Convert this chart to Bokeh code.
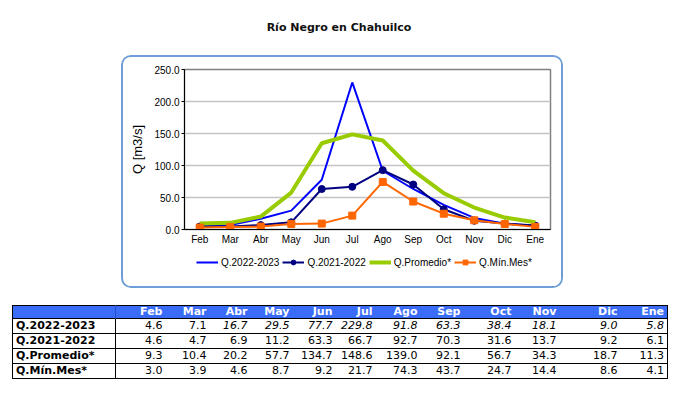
from bokeh.plotting import figure
from bokeh.models import (FactorRange, Range1d, FixedTicker, NumeralTickFormatter,
                          Legend, ColumnDataSource, Div)
from bokeh.layouts import column
from bokeh.embed import file_html
from bokeh.resources import INLINE

# ---------------- data ----------------
months = ["Feb", "Mar", "Abr", "May", "Jun", "Jul", "Ago", "Sep", "Oct", "Nov", "Dic", "Ene"]
series_names = ["Q.2022-2023", "Q.2021-2022", "Q.Promedio*", "Q.Mín.Mes*"]
q_2022_2023 = [4.6, 7.1, 16.7, 29.5, 77.7, 229.8, 91.8, 63.3, 38.4, 18.1, 9.0, 5.8]
q_2021_2022 = [4.6, 4.7, 6.9, 11.2, 63.3, 66.7, 92.7, 70.3, 31.6, 13.7, 9.2, 6.1]
q_promedio = [9.3, 10.4, 20.2, 57.7, 134.7, 148.6, 139.0, 92.1, 56.7, 34.3, 18.7, 11.3]
q_min_mes = [3.0, 3.9, 4.6, 8.7, 9.2, 21.7, 74.3, 43.7, 24.7, 14.4, 8.6, 4.1]
y_ticks = [0, 50, 100, 150, 200, 250]
title_text = "Río Negro en Chahuilco"
y_label = "Q [m3/s]"
# months of the 2022-2023 row that are shown upright (the rest are italic)
upright_2022_2023 = ["Feb", "Mar"]

FONT = "Liberation Sans"
TFONT = "DejaVu Sans"

# series styles: (colour, line width, marker)
styles = [("#0000ff", 2, None), ("#000080", 2, "circle"),
          ("#99cc00", 4, None), ("#ff6600", 2, "square")]

# ---------------- title ----------------
title = Div(text=title_text, width=666, height=47, margin=(0, 0, 0, 0),
            styles={"font-family": TFONT, "font-size": "11px", "font-weight": "bold",
                    "text-align": "center", "padding-top": "12px",
                    "box-sizing": "border-box", "padding-right": "4px",
                    "color": "#111111"})

# ---------------- chart ----------------
p = figure(x_range=FactorRange(factors=months), y_range=Range1d(0, 250),
           width=438, height=193, output_backend="svg", toolbar_location=None,
           min_border_left=61, min_border_right=11, min_border_top=12,
           min_border_bottom=21, background_fill_color="white",
           border_fill_color="white", margin=(0, 0, 0, 0))

src = ColumnDataSource(dict(m=months, a=q_2022_2023, b=q_2021_2022, c=q_promedio, d=q_min_mes))
cols = ["a", "b", "c", "d"]
for col, (color, lw, marker) in zip(cols, styles):
    p.line("m", col, source=src, line_color=color, line_width=lw)
    if marker:
        p.scatter("m", col, source=src, marker=marker, size=7,
                  fill_color=color, line_color=color)

p.yaxis.ticker = FixedTicker(ticks=y_ticks)
p.yaxis.formatter = NumeralTickFormatter(format="0.0")
p.yaxis.axis_label = y_label
p.yaxis.axis_label_text_font = FONT
p.yaxis.axis_label_text_font_size = "13px"
p.yaxis.axis_label_text_font_style = "normal"
p.yaxis.axis_label_text_color = "black"
p.yaxis.axis_label_standoff = 6
p.yaxis.major_tick_out = 3
p.yaxis.major_tick_in = 0
p.yaxis.minor_tick_out = 0
p.yaxis.major_label_standoff = 2
p.yaxis.axis_line_color = "black"

p.xaxis.major_tick_out = 0
p.xaxis.major_tick_in = 0
p.xaxis.major_label_standoff = 4
p.xaxis.axis_line_color = "black"

for ax in (p.xaxis[0], p.yaxis[0]):
    ax.major_label_text_font = FONT
    ax.major_label_text_font_size = "10px"
    ax.major_label_text_color = "black"

p.xgrid.grid_line_color = None
p.ygrid.grid_line_color = "#c4c4c4"
p.ygrid.grid_line_width = 1.5
p.outline_line_color = "#808080"
p.outline_line_width = 1.5

# ---------------- legend strip (inside the rounded box) ----------------
# same series, drawn through a range that keeps them out of view: only the legend shows
lg = figure(width=438, height=36, output_backend="svg", toolbar_location=None,
            x_range=FactorRange(factors=months), y_range=Range1d(-20, -10),
            min_border_left=61, min_border_right=11, min_border_top=0,
            min_border_bottom=0, margin=(0, 0, 0, 0),
            background_fill_color="white", border_fill_color="white")
lg.axis.visible = False
lg.grid.visible = False
lg.outline_line_color = None
items = []
for name, col, (color, lw, marker) in zip(series_names, cols, styles):
    rs = [lg.line("m", col, source=src, line_color=color, line_width=lw)]
    if marker:
        rs.append(lg.scatter("m", col, source=src, marker=marker, size=7,
                             fill_color=color, line_color=color))
    items.append((name, rs))
legend = Legend(items=items, orientation="horizontal", location=(12, 18),
                glyph_width=22, glyph_height=12, label_height=12,
                label_standoff=3, spacing=3, padding=0, margin=0,
                label_text_font=FONT, label_text_font_size="10px",
                label_text_color="black",
                border_line_color=None, background_fill_alpha=0)
lg.add_layout(legend, "center")

chart_box = column(p, lg, spacing=0, width=442, height=233, margin=(0, 0, 0, 113),
                   styles={"border": "2px solid #6f9fd8", "border-radius": "10px",
                           "overflow": "hidden", "background": "white"})

# ---------------- table (HTML built from the arrays) ----------------
col_widths = [103, 50, 44, 41, 42, 43, 40, 45, 43, 51, 45, 61, 47]
td = ("padding:0 3px 0 0;height:14px;line-height:14px;text-align:right;"
      "white-space:nowrap;")
html = [f'<table style="border-collapse:collapse;table-layout:fixed;'
        f'font-family:{TFONT};font-size:11px;color:black;'
        f'border:1.5px solid black;margin-left:4px;width:{sum(col_widths)}px">']
html.append("<colgroup>" + "".join(f'<col style="width:{w}px">' for w in col_widths) + "</colgroup>")
html.append('<tr style="background:#3b6cf8;color:white;font-weight:bold">'
            f'<td style="{td}height:12px;line-height:12px;border-right:1px solid #2a50c0"></td>'
            + "".join(f'<td style="{td}height:12px;line-height:12px">{m}</td>' for m in months)
            + "</tr>")
rows = [q_2022_2023, q_2021_2022, q_promedio, q_min_mes]
for i, (name, vals) in enumerate(zip(series_names, rows)):
    cells = [f'<td style="{td}text-align:left;padding-left:3px;font-weight:bold;'
             f'border-right:1px solid black">{name}</td>']
    for m, v in zip(months, vals):
        it = "font-style:italic;" if (i == 0 and m not in upright_2022_2023) else ""
        cells.append(f'<td style="{td}{it}">{v:.1f}</td>')
    html.append(f'<tr style="border-top:1px solid black">{"".join(cells)}</tr>')
html.append("</table>")
table = Div(text="".join(html), width=666, height=95, margin=(0, 0, 0, 0),
            styles={"padding-top": "17px", "box-sizing": "border-box"})

layout = column(title, chart_box, table, spacing=0, margin=(8, 0, 0, 8))
open("out.html", "w").write(file_html(layout, INLINE))
